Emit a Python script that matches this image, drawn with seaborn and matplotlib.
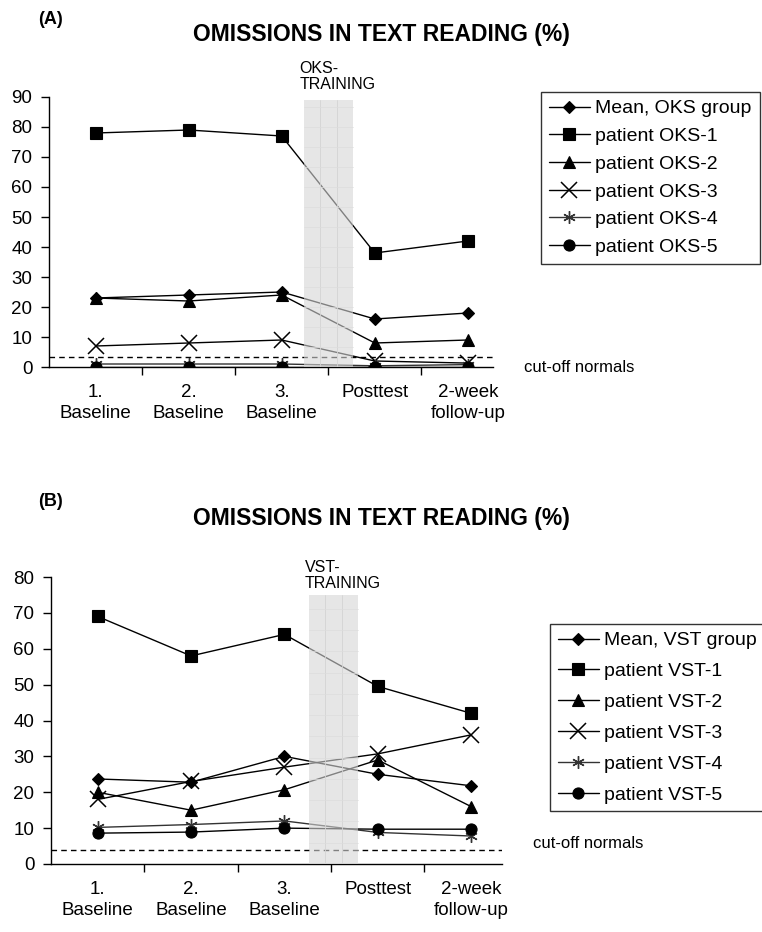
import numpy as np
import pandas as pd
import matplotlib
matplotlib.use("Agg")
import matplotlib.pyplot as plt
import seaborn as sns

# ---------------- data ----------------
categories = ["1.\nBaseline", "2.\nBaseline", "3.\nBaseline", "Posttest", "2-week\nfollow-up"]

oks_names = ["Mean, OKS group", "patient OKS-1", "patient OKS-2",
             "patient OKS-3", "patient OKS-4", "patient OKS-5"]
oks_mean = [23, 24, 25, 16, 18]
oks_1 = [78, 79, 77, 38, 42]
oks_2 = [23, 22, 24, 8, 9]
oks_3 = [7, 8, 9, 2, 1.3]
oks_4 = [1, 1, 1, 0.4, 0.8]
oks_5 = [0, 0, 0, 0, 0]
oks_cutoff = 3.2

vst_names = ["Mean, VST group", "patient VST-1", "patient VST-2",
             "patient VST-3", "patient VST-4", "patient VST-5"]
vst_mean = [23.7, 22.8, 30, 25, 21.8]
vst_1 = [69, 58, 64, 49.5, 42]
vst_2 = [20, 15, 20.7, 29, 16]
vst_3 = [18, 23, 27, 30.7, 36]
vst_4 = [10.2, 11, 12, 8.8, 7.8]
vst_5 = [8.6, 8.9, 10, 9.7, 9.7]
vst_cutoff = 4.0

# ---------------- style ----------------
sns.set_theme(style="white")
plt.rcParams["font.family"] = ["Liberation Sans", "DejaVu Sans"]
for k in ["text.color", "axes.labelcolor", "xtick.color", "ytick.color"]:
    plt.rcParams[k] = "black"

marker_styles = [
    dict(marker="D", markersize=6, color="black", markeredgewidth=0.8),
    dict(marker="s", markersize=8, color="black", markeredgewidth=0.8),
    dict(marker="^", markersize=8, color="black", markeredgewidth=0.8),
    dict(marker="x", markersize=11, color="black", markeredgewidth=1.1),
    dict(marker=(6, 2, 0), markersize=9, color="#333333", markeredgewidth=1.0),
    dict(marker="o", markersize=8, color="black", markeredgewidth=0.8),
]

fig = plt.figure(figsize=(7.62, 9.32), dpi=100)
W, H = 762, 932


def px_axes(left, right, top, bottom):
    return fig.add_axes([left / W, 1 - bottom / H, (right - left) / W, (bottom - top) / H])


def draw_panel(ax, names, series, ymax, xmax, cutoff, band, band_top, train_label,
               train_xy, cut_xy, legend_anchor, title_y, letter, letter_y, lspace):
    x = np.arange(len(categories))
    handles = []
    for name, vals, st in zip(names, series, marker_styles):
        df = pd.DataFrame({"x": x, "y": vals})
        sns.lineplot(data=df, x="x", y="y", ax=ax, linewidth=1.0, zorder=3,
                     markeredgecolor=st["color"], markerfacecolor=st["color"],
                     **st)
        handles.append(ax.lines[-1])
    # cutoff
    ax.axhline(cutoff, color="black", linestyle=(0, (4, 3)), linewidth=1.0, zorder=2)
    # training band (semi transparent, drawn over lines)
    ax.fill_between([band[0], band[1]], 0, band_top, color=(0.84, 0.84, 0.84),
                    alpha=0.6, zorder=4, linewidth=0)
    for gx in np.linspace(band[0], band[1], 4)[1:-1]:
        ax.plot([gx, gx], [0, band_top], color="#d4d4d4", lw=0.6, zorder=4.1)
    for gy in np.arange(0, band_top, ymax / 13.5)[1:]:
        ax.plot([band[0], band[1]], [gy, gy], color="#dddddd", lw=0.5, zorder=4.1)

    ax.set_xlim(-0.5, xmax)
    ax.set_ylim(0, ymax)
    ax.set_yticks(np.arange(0, ymax + 1, 10))
    ax.set_xticks(np.arange(0.5, 4, 1.0))
    ax.set_xticklabels([])
    ax.set_xticks(x, minor=True)
    ax.set_xticklabels(categories, minor=True, fontsize=13.5, linespacing=1.3)
    ax.tick_params(axis="x", which="major", length=6, width=1, color="black",
                   direction="out", bottom=True)
    ax.tick_params(axis="x", which="minor", length=0, pad=12)
    ax.tick_params(axis="y", length=6, width=1, color="black", direction="out",
                   left=True, labelsize=13.5, pad=6)
    for s in ["top", "right"]:
        ax.spines[s].set_visible(False)
    for s in ["left", "bottom"]:
        ax.spines[s].set_color("black")
        ax.spines[s].set_linewidth(1.0)
    ax.set_xlabel("")
    ax.set_ylabel("")

    ax.text(train_xy[0], train_xy[1], train_label, transform=ax.transData,
            fontsize=11.5, ha="left", va="bottom", linespacing=1.1, clip_on=False)
    ax.text(cut_xy[0], cut_xy[1], "cut-off normals", fontsize=12, ha="left",
            va="center", clip_on=False)

    fig.text(381 / W, 1 - title_y / H, "OMISSIONS IN TEXT READING (%)",
             fontsize=16.5, fontweight="bold", ha="center", va="center")
    fig.text(38 / W, 1 - letter_y / H, letter, fontsize=13, fontweight="bold",
             ha="left", va="center")

    leg = fig.legend(handles, names, loc="upper left",
                     bbox_to_anchor=(legend_anchor[0] / W, 1 - legend_anchor[1] / H),
                     fontsize=14, frameon=True, fancybox=False, handlelength=2.1,
                     handletextpad=0.3, labelspacing=lspace, borderpad=0.4,
                     borderaxespad=0)
    leg.get_frame().set_edgecolor("black")
    leg.get_frame().set_linewidth(1.0)
    for t in leg.get_texts():
        t.set_color("black")


axA = px_axes(49, 493, 97, 367)
draw_panel(axA, oks_names, [oks_mean, oks_1, oks_2, oks_3, oks_4, oks_5],
           ymax=90, xmax=4.27, cutoff=oks_cutoff, band=(2.24, 2.77), band_top=89,
           train_label="OKS-\nTRAINING", train_xy=(2.19, 91.5),
           cut_xy=(4.6, 0), legend_anchor=(541, 92), title_y=35, letter="(A)",
           letter_y=20, lspace=0.52)

axB = px_axes(51, 502, 577, 864)
draw_panel(axB, vst_names, [vst_mean, vst_1, vst_2, vst_3, vst_4, vst_5],
           ymax=80, xmax=4.33, cutoff=vst_cutoff, band=(2.26, 2.79), band_top=75,
           train_label="VST-\nTRAINING", train_xy=(2.22, 76),
           cut_xy=(4.66, 5.6), legend_anchor=(550, 624), title_y=518, letter="(B)",
           letter_y=501, lspace=0.68)

fig.savefig("out.png", dpi=100)
